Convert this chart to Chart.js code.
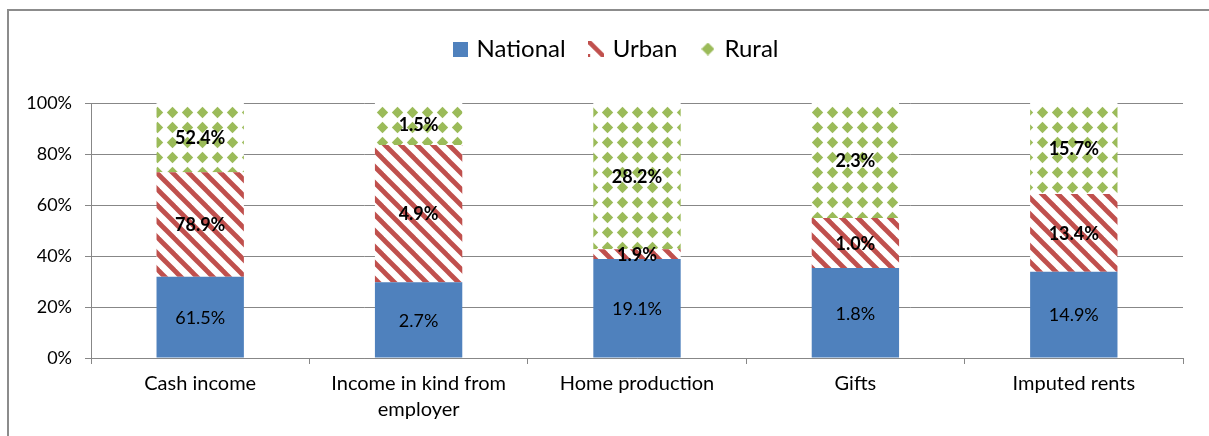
<!DOCTYPE html>
<html>
<head>
<meta charset="utf-8">
<script src="https://cdn.jsdelivr.net/npm/chart.js@4"></script>
<style>
  html, body { margin: 0; padding: 0; background: #fff; }
  #frame { position: absolute; left: 7px; top: 9px; width: 1300px; height: 500px;
           border-left: 2px solid #8c8c8c; border-top: 2px solid #8c8c8c; }
  #wrap { position: absolute; left: 0; top: 0; width: 1209px; height: 436px; }
</style>
</head>
<body>
<div id="frame"></div>
<div id="wrap"><canvas id="c" width="1209" height="436"></canvas></div>
<script>
// Income categories (the second one wraps onto two lines)
const categories = ['Cash income', ['Income in kind from', 'employer'], 'Home production', 'Gifts', 'Imputed rents'];
const seriesNames = ['National', 'Urban', 'Rural'];

// Reported percentages per series
const national = [61.5, 2.7, 19.1, 1.8, 14.9];
const urban    = [78.9, 4.9, 1.9, 1.0, 13.4];
const rural    = [52.4, 1.5, 28.2, 2.3, 15.7];

// Value axis ticks (percent of the stacked column)
const yTicks = [0, 20, 40, 60, 80, 100];

const BLUE = '#4F81BD', RED = '#C0504D', GREEN = '#9BBB59';

// Each column is stacked to 100%, so every segment is its share of the column total
const seriesValues = [national, urban, rural];
const totals = categories.map((_, j) => national[j] + urban[j] + rural[j]);
const shares = seriesValues.map(arr => arr.map((v, j) => v / totals[j] * 100));

function makeCanvas(w, h) {
  const c = document.createElement('canvas');
  c.width = w; c.height = h;
  return c;
}

// Diagonal red stripes on white
function stripeTile() {
  const c = makeCanvas(16, 16), g = c.getContext('2d');
  g.fillStyle = '#fff'; g.fillRect(0, 0, 16, 16);
  g.strokeStyle = RED; g.lineWidth = 4.8;
  for (let k = -1; k <= 1; k++) {
    g.beginPath();
    g.moveTo(k * 16 - 4, -4);
    g.lineTo(k * 16 + 20, 20);
    g.stroke();
  }
  return c;
}

// Green diamonds on white
function diamondTile() {
  const c = makeCanvas(15, 15), g = c.getContext('2d');
  g.fillStyle = '#fff'; g.fillRect(0, 0, 15, 15);
  g.fillStyle = GREEN;
  g.beginPath();
  g.moveTo(7.5, 1.8); g.lineTo(13.2, 7.5); g.lineTo(7.5, 13.2); g.lineTo(1.8, 7.5);
  g.closePath(); g.fill();
  return c;
}

const ctx = document.getElementById('c').getContext('2d');
const stripePattern = ctx.createPattern(stripeTile(), 'repeat');
const diamondPattern = ctx.createPattern(diamondTile(), 'repeat');

// Legend icons
const iconNational = (() => { const c = makeCanvas(15, 15), g = c.getContext('2d'); g.fillStyle = BLUE; g.fillRect(0, 0, 15, 15); return c; })();
const iconUrban = (() => {
  const c = makeCanvas(16, 16), g = c.getContext('2d');
  g.strokeStyle = RED; g.lineWidth = 4.5;
  g.beginPath(); g.moveTo(0, 0); g.lineTo(16, 16); g.stroke();
  g.fillStyle = RED; g.fillRect(0, 13, 2, 3);
  return c;
})();
const iconRural = (() => {
  const c = makeCanvas(13, 13), g = c.getContext('2d');
  g.fillStyle = GREEN;
  g.beginPath(); g.moveTo(6.5, 0); g.lineTo(13, 6.5); g.lineTo(6.5, 13); g.lineTo(0, 6.5);
  g.closePath(); g.fill();
  return c;
})();
const legendIcons = [iconNational, iconUrban, iconRural];

// Value labels in the middle of each segment
const segmentLabels = {
  id: 'segmentLabels',
  afterDatasetsDraw(chart) {
    const c = chart.ctx;
    c.save();
    c.textAlign = 'center';
    c.textBaseline = 'middle';
    c.fillStyle = '#000';
    chart.data.datasets.forEach((ds, i) => {
      const meta = chart.getDatasetMeta(i);
      c.font = (i === 0 ? '' : 'bold ') + '18px Lato';
      meta.data.forEach((bar, j) => {
        const p = bar.getProps(['x', 'y', 'base'], true);
        c.fillText(seriesValues[i][j].toFixed(1) + '%', p.x, (p.y + p.base) / 2 + 1);
      });
    });
    c.restore();
  }
};

// Centre the legend row over the plot rather than over the whole canvas
const legendShift = {
  id: 'legendShift',
  afterLayout(chart) {
    if (chart.legend) chart.legend.left += 51;
  }
};

const GRID = '#878787';

Chart.defaults.font.family = 'Lato';
Chart.defaults.color = '#000';

new Chart(ctx, {
  type: 'bar',
  data: {
    labels: categories,
    datasets: [
      { label: seriesNames[0], data: shares[0], backgroundColor: BLUE },
      { label: seriesNames[1], data: shares[1], backgroundColor: stripePattern },
      { label: seriesNames[2], data: shares[2], backgroundColor: diamondPattern }
    ]
  },
  options: {
    responsive: false,
    animation: false,
    layout: { padding: { left: 0, right: 26, top: 11, bottom: 0 } },
    datasets: { bar: { categoryPercentage: 1, barPercentage: 0.4, borderWidth: 0 } },
    scales: {
      x: {
        stacked: true,
        grid: { drawOnChartArea: false, drawTicks: true, tickLength: 6, color: GRID, offset: true },
        border: { color: GRID },
        ticks: { font: { size: 20, lineHeight: 1.3 }, padding: 7, maxRotation: 0, autoSkip: false },
        afterFit(s) { s.height = 78; }
      },
      y: {
        stacked: true,
        min: 0, max: 100,
        afterBuildTicks(s) { s.ticks = yTicks.map(v => ({ value: v })); },
        grid: { color: GRID, tickLength: 6 },
        border: { color: GRID },
        ticks: { font: { size: 18 }, padding: 13, callback: v => v + '%' },
        afterFit(s) { s.width = 91; }
      }
    },
    plugins: {
      tooltip: { enabled: false },
      legend: {
        position: 'top',
        labels: {
          font: { size: 24 },
          padding: 26,
          usePointStyle: true,
          pointStyleWidth: 9,
          boxHeight: 15,
          generateLabels(chart) {
            const items = Chart.defaults.plugins.legend.labels.generateLabels(chart);
            items.forEach((it, i) => { it.pointStyle = legendIcons[i]; });
            return items;
          }
        }
      },
      // blank band between the legend and the plot
      subtitle: { display: true, text: '', weight: 500, font: { size: 10 }, padding: { top: 0, bottom: 20 } }
    }
  },
  plugins: [segmentLabels, legendShift]
});
</script>
</body>
</html>
